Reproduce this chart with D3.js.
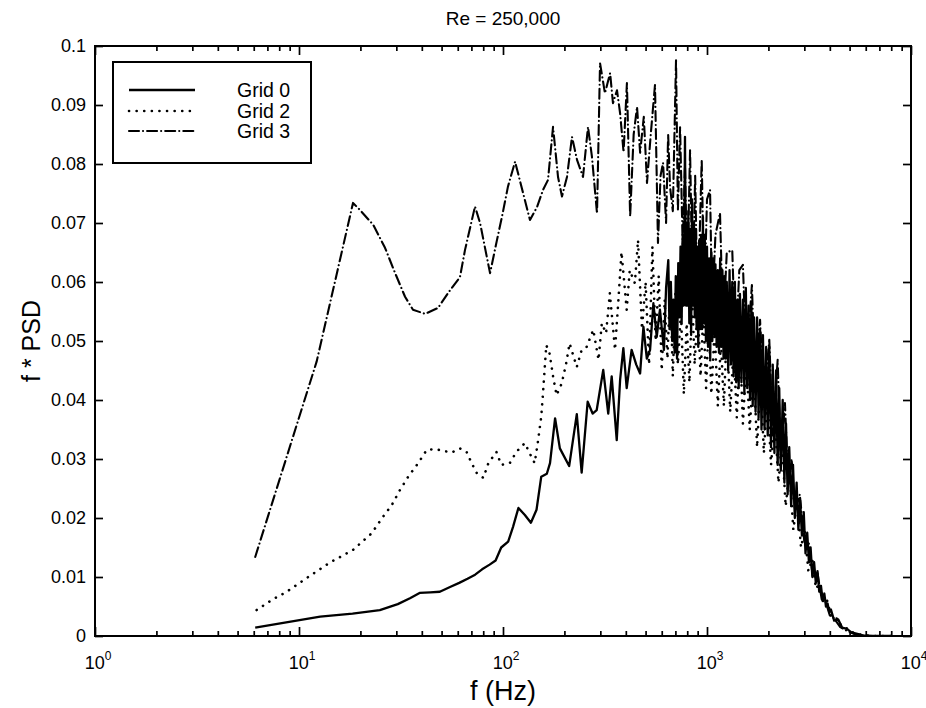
<!DOCTYPE html>
<html>
<head>
<meta charset="utf-8">
<script src="https://cdnjs.cloudflare.com/ajax/libs/d3/7.8.5/d3.min.js"></script>
<style>
body { margin:0; background:#fff; }
svg { display:block; font-family:"Liberation Sans", Arial, Helvetica, sans-serif; }
.axis .domain { display:none; }
.axis .tick line { stroke:#000; stroke-width:1.7; }
.axis .tick text { fill:#000; font-size:18px; }
.series { fill:none; stroke:#000; }
</style>
</head>
<body>
<div id="plot"></div>
<script>
// values: [frequency (Hz), f*PSD]
var grid0 = [
    [6.1,0.0014],[12.7,0.0033],[18.3,0.0038],[24.9,0.0044],[30.5,0.0054],[35,0.0064],[39,0.0073],[44,0.0074],
    [49,0.0075],[55,0.0083],[61,0.0090],[67,0.0097],[73,0.0104],[79,0.0113],[86,0.0121],[92,0.0128],
    [98,0.0150],[106,0.0160],[112,0.0185],[119,0.0217],[128,0.0205],[137,0.0192],[146,0.0214],[154,0.0270],
    [164,0.0275],[170,0.0293],[180,0.0369],[190,0.0318],[211,0.0288],[230,0.0376],[243,0.0277],[260,0.0397],
    [275,0.0377],[288,0.0383],[310,0.0451],[328,0.0377],[341,0.0440],[361,0.0332],[375,0.0434],[389,0.0488],
    [404,0.0420],[427,0.0485],[450,0.0460],[470,0.0445],[488,0.0524],[507,0.0470],[526,0.0485],[546,0.0564],
    [567,0.0507],[588,0.0553],[615,0.0485],[630,0.0590],[646,0.0637],[655,0.0520],[665,0.0600],[675,0.0500],
    [684,0.0570],[694,0.0480],[703,0.0610],[713,0.0470],[723,0.0632],[732,0.0540],[742,0.0660],[751,0.0530],
    [760,0.0680],[770,0.0560],[780,0.0846],[788,0.0560],[795,0.0700],[803,0.0560],[810,0.0720],[819,0.0530],
    [828,0.0690],[836,0.0510],[845,0.0740],[853,0.0560],[862,0.0700],[871,0.0540],[880,0.0690],[889,0.0520],
    [898,0.0660],[906,0.0490],[915,0.0670],[925,0.0520],[935,0.0680],[945,0.0520],[955,0.0710],[965,0.0530],
    [975,0.0680],[988,0.0500],[1000,0.0660],[1012,0.0490],[1025,0.0640],[1037,0.0470],[1050,0.0650],[1062,0.0500],
    [1075,0.0640],[1088,0.0510],[1100,0.0630],[1115,0.0490],[1130,0.0620],[1145,0.0480],[1160,0.0640],[1175,0.0490],
    [1190,0.0620],[1205,0.0470],[1220,0.0610],[1235,0.0470],[1250,0.0600],[1270,0.0450],[1290,0.0620],[1310,0.0460],
    [1330,0.0600],[1350,0.0440],[1370,0.0600],[1390,0.0430],[1410,0.0570],[1430,0.0420],[1450,0.0580],[1475,0.0430],
    [1500,0.0570],[1525,0.0410],[1550,0.0590],[1575,0.0420],[1600,0.0560],[1625,0.0400],[1650,0.0560],[1675,0.0390],
    [1700,0.0540],[1730,0.0380],[1760,0.0540],[1790,0.0370],[1820,0.0520],[1850,0.0350],[1880,0.0510],[1915,0.0350],
    [1950,0.0490],[1985,0.0340],[2020,0.0490],[2060,0.0320],[2100,0.0460],[2140,0.0310],[2180,0.0450],[2220,0.0290],
    [2260,0.0420],[2300,0.0280],[2350,0.0400],[2395,0.0260],[2440,0.0360],[2485,0.0240],[2530,0.0320],[2585,0.0220],
    [2640,0.0290],[2695,0.0200],[2750,0.0260],[2805,0.0180],[2860,0.0230],[2920,0.0170],[2980,0.0210],[3040,0.0140],
    [3100,0.0175],[3160,0.0125],[3220,0.0150],[3285,0.0100],[3350,0.0125],[3415,0.0090],[3480,0.0110],[3550,0.0075],
    [3620,0.0085],[3690,0.0060],[3760,0.0072],[3830,0.0050],[3900,0.0055],[3975,0.0040],[4050,0.0045],[4200,0.0026],
    [4400,0.0028],[4600,0.0014],[4850,0.0012],[5100,0.0006],[5400,0.0004],[5800,0.0001],[6500,0],[8000,0]
];

var grid2 = [
    [6.2,0.0044],[7.35,0.0061],[8.7,0.0075],[11.1,0.0100],[14.1,0.0124],[18.4,0.0146],[22.7,0.0174],[25.8,0.0202],
    [28.5,0.0222],[31.2,0.0247],[34.3,0.0270],[38.4,0.0293],[42.2,0.0315],[46.4,0.0317],[50.6,0.0314],[56,0.0311],
    [61.5,0.0318],[66.3,0.0312],[70.2,0.0293],[74.4,0.0276],[80.1,0.0268],[84.8,0.0293],[92.8,0.0312],[98.1,0.0290],
    [108,0.0293],[116.2,0.0312],[128,0.0327],[135,0.0310],[143,0.0293],[148,0.0327],[154,0.0372],[157,0.0411],
    [163,0.0493],[169,0.0479],[176,0.0440],[183,0.0408],[194,0.0428],[204,0.0462],[212,0.0496],[230,0.0456],
    [243,0.0485],[257,0.0490],[277,0.0519],[294,0.0468],[305,0.0530],[320,0.0513],[334,0.0581],[347,0.0519],
    [354,0.0485],[367,0.0564],[381,0.0651],[404,0.0553],[418,0.0620],[443,0.0598],[459,0.0671],[480,0.0520],
    [500,0.0600],[520,0.0460],[540,0.0660],[560,0.0500],[580,0.0610],[600,0.0450],[620,0.0570],[640,0.0470],
    [660,0.0600],[680,0.0440],[700,0.0580],[720,0.0460],[745,0.0550],[770,0.0410],[795,0.0530],[820,0.0430],
    [845,0.0580],[870,0.0460],[900,0.0560],[930,0.0440],[960,0.0550],[990,0.0420],[1020,0.0540],[1050,0.0410],
    [1090,0.0520],[1130,0.0390],[1170,0.0500],[1210,0.0390],[1250,0.0520],[1300,0.0380],[1350,0.0490],[1400,0.0370],
    [1450,0.0500],[1500,0.0360],[1560,0.0470],[1620,0.0350],[1690,0.0460],[1760,0.0320],[1830,0.0440],[1900,0.0310],
    [1980,0.0410],[2060,0.0290],[2150,0.0370],[2240,0.0260],[2330,0.0330],[2430,0.0220],[2540,0.0280],[2650,0.0180],
    [2770,0.0230],[2890,0.0150],[3010,0.0180],[3140,0.0110],[3280,0.0130],[3420,0.0080],[3570,0.0090],[3720,0.0055],
    [3880,0.0060],[4050,0.0035],[4250,0.0035],[4450,0.0020],[4700,0.0018],[5000,0.0008],[5400,0.0004],[5900,0.0001],
    [6500,0],[8000,0]
];

var grid3 = [
    [6.1,0.0134],[12.2,0.0465],[18.4,0.0734],[19.9,0.0722],[23.1,0.0697],[26.4,0.0658],[29.6,0.0615],[33.1,0.0575],
    [36.2,0.0553],[41.5,0.0546],[48,0.0556],[55,0.0586],[61.5,0.0608],[65.1,0.0654],[72.9,0.0728],[77.2,0.0700],
    [86.4,0.0615],[93.4,0.0671],[98.9,0.0711],[105.8,0.0762],[114.6,0.0804],[125.4,0.0751],[135.6,0.0705],[146.8,0.0727],
    [157.1,0.0756],[166.2,0.0773],[175.9,0.0863],[186.1,0.0778],[194.6,0.0745],[205.9,0.0778],[217.9,0.0846],[230.6,0.0807],
    [246.7,0.0778],[261,0.0863],[273,0.0812],[289,0.0716],[299,0.0971],[316,0.0920],[335,0.0954],[346,0.0903],
    [362,0.0925],[375,0.0886],[390,0.0820],[405,0.0937],[420,0.0711],[437,0.0850],[454,0.0897],[470,0.0819],
    [490,0.0880],[508,0.0768],[530,0.0850],[556,0.0934],[575,0.0666],[592,0.0780],[609,0.0802],[630,0.0700],
    [645,0.0850],[659,0.0761],[680,0.0720],[705,0.0976],[720,0.0720],[738,0.0863],[760,0.0660],[780,0.0800],
    [800,0.0600],[826,0.0824],[850,0.0580],[875,0.0780],[900,0.0550],[942,0.0807],[970,0.0570],[1000,0.0740],
    [1035,0.0756],[1060,0.0550],[1100,0.0680],[1158,0.0717],[1200,0.0520],[1250,0.0650],[1330,0.0654],[1380,0.0480],
    [1440,0.0620],[1500,0.0629],[1560,0.0460],[1660,0.0595],[1720,0.0430],[1820,0.0536],[1900,0.0400],[2020,0.0502],
    [2100,0.0340],[2220,0.0468],[2300,0.0300],[2410,0.0395],[2500,0.0260],[2600,0.0300],[2700,0.0210],[2850,0.0240],
    [3000,0.0160],[3150,0.0160],[3300,0.0100],[3480,0.0107],[3650,0.0062],[3800,0.0060],[4000,0.0035],[4200,0.0030],
    [4500,0.0015],[4900,0.0008],[5300,0.0003],[6000,0],[8000,0]
];

var seriesNames = ['Grid 0', 'Grid 2', 'Grid 3'];
var dashes = [null, '0.1,7.5', '10,4,0.1,4'];
var widths = [2.3, 2.6, 2.1];
var xMajor = [1, 10, 100, 1000, 10000];
var xExp = ['0', '1', '2', '3', '4'];
var yTicks = [0, 0.01, 0.02, 0.03, 0.04, 0.05, 0.06, 0.07, 0.08, 0.09, 0.1];

var margin = {t:46, r:15, b:72, l:95};
var width = 926 - margin.l - margin.r,
    height = 708 - margin.t - margin.b;

var svg = d3.select('#plot')
    .append('svg')
    .attr('width', 926)
    .attr('height', 708);

var plot = svg.append('g')
    .attr('transform', 'translate(' + margin.l + ',' + margin.t + ')');

var x = d3.scaleLog().domain([1, 10000]).range([0, width]);
var y = d3.scaleLinear().domain([0, 0.1]).range([height, 0]);

// minor log ticks 2..9 in each decade
var xMinor = [];
xMajor.slice(0, 4).forEach(function(d) {
    for (var k = 2; k < 10; k++) xMinor.push(d * k);
});

var fmtY = function(d) { return d === 0 ? '0' : d3.format('.2~f')(d); };

plot.append('g').attr('class', 'axis')
    .attr('transform', 'translate(0,' + height + ')')
    .call(d3.axisBottom(x).tickValues(xMajor).tickSize(-9).tickFormat(''));
plot.append('g').attr('class', 'axis')
    .attr('transform', 'translate(0,' + height + ')')
    .call(d3.axisBottom(x).tickValues(xMinor).tickSize(-5).tickFormat(''));
plot.append('g').attr('class', 'axis')
    .call(d3.axisTop(x).tickValues(xMajor).tickSize(-9).tickFormat(''));
plot.append('g').attr('class', 'axis')
    .call(d3.axisTop(x).tickValues(xMinor).tickSize(-5).tickFormat(''));
plot.append('g').attr('class', 'axis')
    .call(d3.axisLeft(y).tickValues(yTicks).tickSize(-8).tickPadding(9).tickFormat(fmtY));
plot.append('g').attr('class', 'axis')
    .attr('transform', 'translate(' + width + ',0)')
    .call(d3.axisRight(y).tickValues(yTicks).tickSize(-8).tickFormat(''));

// decade labels with superscripts
var xl = plot.selectAll('.xlab')
    .data(xMajor)
    .enter()
    .append('text')
    .attr('class', 'xlab')
    .attr('x', function(d) { return x(d) + 3; })
    .attr('y', height + 33)
    .attr('text-anchor', 'middle')
    .style('font-size', '18px');
xl.append('tspan').text('10');
xl.append('tspan')
    .attr('dy', -9)
    .style('font-size', '12px')
    .text(function(d, i) { return xExp[i]; });

var line = d3.line()
    .x(function(d) { return x(d[0]); })
    .y(function(d) { return y(d[1]); });

plot.append('defs').append('clipPath').attr('id', 'clip')
    .append('rect').attr('width', width).attr('height', height);

[grid0, grid2, grid3].forEach(function(s, i) {
    plot.append('path')
        .datum(s)
        .attr('class', 'series')
        .attr('clip-path', 'url(#clip)')
        .attr('d', line)
        .attr('stroke-width', widths[i])
        .attr('stroke-linejoin', 'round')
        .attr('stroke-linecap', i == 0 ? 'butt' : 'round')
        .attr('stroke-dasharray', dashes[i]);
});

plot.append('rect')
    .attr('width', width)
    .attr('height', height)
    .attr('fill', 'none')
    .attr('stroke', '#000')
    .attr('stroke-width', 2);

// legend
var lg = plot.append('g').attr('transform', 'translate(18,16)');
lg.append('rect')
    .attr('width', 198)
    .attr('height', 101)
    .attr('fill', '#fff')
    .attr('stroke', '#000')
    .attr('stroke-width', 2);
var items = lg.selectAll('.item')
    .data(seriesNames)
    .enter()
    .append('g')
    .attr('class', 'item')
    .attr('transform', function(d, i) { return 'translate(0,' + [28, 49, 69][i] + ')'; });
items.append('line')
    .attr('x1', 16).attr('x2', 82)
    .attr('stroke', '#000')
    .attr('stroke-width', function(d, i) { return widths[i]; })
    .attr('stroke-linecap', function(d, i) { return i == 0 ? 'butt' : 'round'; })
    .attr('stroke-dasharray', function(d, i) { return dashes[i]; });
items.append('text')
    .attr('x', 124)
    .attr('y', 7)
    .style('font-size', '19.5px')
    .text(function(d) { return d; });

svg.append('text')
    .attr('x', margin.l + width / 2)
    .attr('y', 25)
    .attr('text-anchor', 'middle')
    .style('font-size', '19px')
    .text('Re = 250,000');

svg.append('text')
    .attr('x', margin.l + width / 2)
    .attr('y', 700)
    .attr('text-anchor', 'middle')
    .style('font-size', '27px')
    .text('f (Hz)');

svg.append('text')
    .attr('transform', 'translate(40,' + (margin.t + height / 2) + ') rotate(-90)')
    .attr('text-anchor', 'middle')
    .style('font-size', '25px')
    .text('f * PSD');
</script>
</body>
</html>
